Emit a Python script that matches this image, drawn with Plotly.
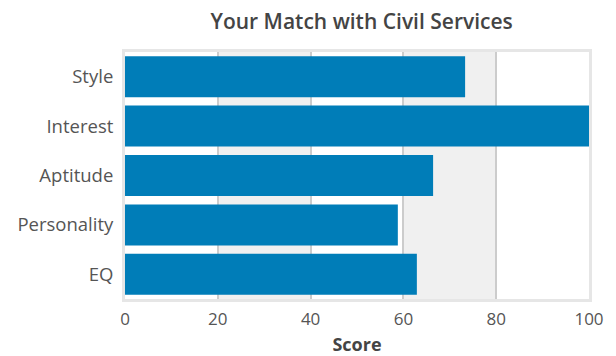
import plotly.graph_objects as go

categories = ["Style", "Interest", "Aptitude", "Personality", "EQ"]
scores = [73.3, 100, 66.4, 58.8, 62.9]
tick_vals = [0, 20, 40, 60, 80, 100]
shaded_bands = [(20, 40), (60, 80)]

fig = go.Figure(
    go.Bar(
        x=scores,
        y=categories,
        orientation="h",
        marker=dict(color="#007db8", line=dict(width=0)),
        hoverinfo="x+y",
    )
)

# alternating background bands behind the bars
shapes = []
for lo, hi in shaded_bands:
    shapes.append(dict(type="rect", xref="x", yref="paper", x0=lo, x1=hi, y0=0, y1=1,
                       fillcolor="#f0f0f0", line=dict(width=0), layer="below"))

fig.update_layout(
    width=616,
    height=356,
    margin=dict(l=125, r=27, t=52, b=57),
    paper_bgcolor="white",
    plot_bgcolor="white",
    font=dict(family="Open Sans", size=18, color="#555555"),
    title=dict(text="Your Match with Civil Services", xref="paper", x=0.51,
               xanchor="center", y=0.94, yanchor="middle",
               font=dict(size=21, color="#444444", weight=600)),
    bargap=0.17,
    shapes=shapes,
    showlegend=False,
)
fig.update_xaxes(
    range=[0, 100],
    tickvals=tick_vals,
    showgrid=True,
    gridcolor="#cccccc",
    gridwidth=2,
    zeroline=False,
    showline=True,
    mirror=True,
    linecolor="#e6e6e6",
    linewidth=3,
    ticks="",
    automargin=False,
    ticklabelstandoff=3,
    title=dict(text="<b>Score</b>", font=dict(size=18, color="#444444"), standoff=12),
    tickfont=dict(size=17, color="#555555"),
    layer="below traces",
)
fig.update_yaxes(
    autorange="reversed",
    showgrid=False,
    zeroline=False,
    showline=True,
    mirror=True,
    linecolor="#e6e6e6",
    linewidth=3,
    ticks="",
    automargin=False,
    ticklabelstandoff=5,
    tickfont=dict(size=18.5, color="#555555"),
)

fig.write_html("out.html")
